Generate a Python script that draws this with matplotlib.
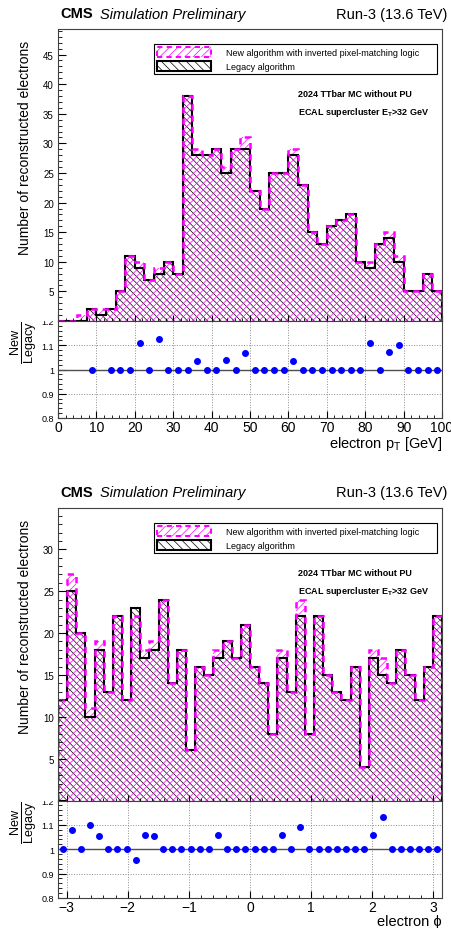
import numpy as np
import matplotlib
matplotlib.use('Agg')
import matplotlib.pyplot as plt
from matplotlib.patches import Patch, Rectangle
from matplotlib.ticker import MultipleLocator, FixedLocator

plt.rcParams['font.family'] = ['Liberation Sans', 'DejaVu Sans']
plt.rcParams['mathtext.fontset'] = 'custom'
plt.rcParams['mathtext.rm'] = 'Liberation Sans'
plt.rcParams['mathtext.it'] = 'Liberation Sans:italic'
plt.rcParams['mathtext.bf'] = 'Liberation Sans:bold'
plt.rcParams['hatch.linewidth'] = 0.5

# electron pT, 40 bins of 2.5 GeV
pt_edges = np.linspace(0, 100, 41)
pt_legacy = np.array([0, 0, 0, 2, 1, 2, 5, 11, 9, 7,
                      8, 10, 8, 38, 28, 28, 29, 25, 29, 29,
                      22, 19, 25, 25, 28, 23, 15, 13, 16, 17,
                      18, 10, 9, 13, 14, 10, 5, 5, 8, 5])
pt_new = np.array([0, 0, 1, 2, 2, 2, 5, 11, 10, 7,
                   9, 10, 8, 38, 29, 28, 29, 26, 29, 31,
                   22, 19, 25, 25, 29, 23, 15, 13, 16, 17,
                   18, 10, 10, 13, 15, 11, 5, 5, 8, 5])

# electron phi, 42 bins over [-pi, pi]
phi_edges = np.linspace(-np.pi, np.pi, 43)
phi_legacy = np.array([12, 25, 20, 10, 18, 13, 22, 12, 23, 17,
                       18, 24, 14, 18, 6, 16, 15, 17, 19, 17,
                       21, 16, 14, 8, 17, 13, 22, 8, 22, 15,
                       13, 12, 16, 4, 17, 15, 14, 18, 15, 12,
                       16, 22])
phi_new = np.array([12, 27, 20, 11, 19, 13, 22, 12, 22, 18,
                    19, 24, 14, 18, 6, 16, 15, 18, 19, 17,
                    21, 16, 14, 8, 18, 13, 24, 8, 22, 15,
                    13, 12, 16, 4, 18, 17, 14, 18, 15, 12,
                    16, 22])

label_new = 'New algorithm with inverted pixel-matching logic'
label_legacy = 'Legacy algorithm'
magenta = '#ff00ff'

W, H = 452, 929
fig = plt.figure(figsize=(W / 100, H / 100), dpi=100)


def fx(px):
    return px / W


def fy(py):
    return 1 - py / H


def panel(top, mid, bottom, edges, legacy, new, ymax, xmaj, xmin, xlabel):
    left, right = 58, 442
    ax = fig.add_axes([fx(left), fy(mid), fx(right) - fx(left), fy(top) - fy(mid)])
    axr = fig.add_axes([fx(left), fy(bottom), fx(right) - fx(left), fy(mid) - fy(bottom)], sharex=ax)

    # hatched fills
    ax.stairs(legacy, edges, baseline=0, fill=True, facecolor='none', edgecolor='black',
              hatch='\\\\\\\\\\', linewidth=0)
    ax.stairs(new, edges, baseline=0, fill=True, facecolor='none', edgecolor=magenta,
              hatch='/////', linewidth=0)
    # outlines
    ax.stairs(legacy, edges, baseline=0, color='black', linewidth=1.5)
    ax.stairs(new, edges, baseline=0, color=magenta, linewidth=1.8, linestyle=(0, (2.5, 2)))

    ax.set_xlim(edges[0], edges[-1])
    ax.set_ylim(0, ymax)
    ax.yaxis.set_major_locator(FixedLocator(np.arange(5, ymax, 5)))
    ax.yaxis.set_minor_locator(MultipleLocator(1))
    ax.xaxis.set_major_locator(MultipleLocator(xmaj))
    ax.xaxis.set_minor_locator(MultipleLocator(xmin))
    ax.tick_params(axis='both', which='both', direction='in', top=False, right=False,
                   labelbottom=False)
    ax.tick_params(axis='y', which='major', length=6, labelsize=7, pad=3)
    ax.tick_params(axis='y', which='minor', length=3)
    ax.tick_params(axis='x', which='major', length=4.5)
    ax.tick_params(axis='x', which='minor', length=2.5)

    leg_handles = [Patch(facecolor='none', edgecolor=magenta, hatch='////', linestyle=(0, (2.5, 2)), linewidth=1.5),
                   Patch(facecolor='none', edgecolor='black', hatch='\\\\\\\\', linewidth=1.5)]
    leg = ax.legend(leg_handles, [label_new, label_legacy], loc='upper left',
                    bbox_to_anchor=(0.25, 0.946, 0.737, 0.0), mode='expand', fontsize=6.5,
                    fancybox=False, edgecolor='black', framealpha=1, handlelength=6.0,
                    handleheight=1.25, handletextpad=1.6, borderpad=0.35, labelspacing=0.45,
                    borderaxespad=0)
    leg.get_frame().set_linewidth(0.8)

    ax.text(0.625, 0.777, '2024 TTbar MC without PU', transform=ax.transAxes,
            fontsize=6.5, fontweight='bold', va='center')
    ax.text(0.625, 0.716, r'ECAL supercluster E$_{\mathbf{T}}$>32 GeV', transform=ax.transAxes,
            fontsize=6.5, fontweight='bold', va='center')

    # ratio
    centers = 0.5 * (edges[:-1] + edges[1:])
    ok = legacy > 0
    ratio = new[ok] / legacy[ok]
    axr.grid(True, which='major', linestyle=':', color='0.55', linewidth=0.7)
    axr.axhline(1, color='0.3', linewidth=1.0)
    axr.plot(centers[ok], ratio, 'o', color='blue', markersize=4, zorder=5)
    axr.set_ylim(0.8, 1.2)
    axr.yaxis.set_major_locator(FixedLocator([0.8, 0.9, 1.0, 1.1, 1.2]))
    axr.yaxis.set_minor_locator(MultipleLocator(0.02))
    axr.set_yticklabels(['0.8', '0.9', '1', '1.1', '1.2'])
    axr.tick_params(axis='both', which='both', direction='in', top=False, right=False)
    axr.tick_params(axis='y', which='major', length=6, labelsize=6.5, pad=3)
    axr.tick_params(axis='y', which='minor', length=3)
    axr.tick_params(axis='x', which='major', length=5, labelsize=10, pad=1.5)
    axr.tick_params(axis='x', which='minor', length=2.5)
    axr.set_xlabel(xlabel, fontsize=10.5, loc='right', labelpad=0)

    for a in (ax, axr):
        for s in a.spines.values():
            s.set_linewidth(0.8)
            s.set_color('0.25')

    # upper pad hides the top half of the "1.2" label
    fig.add_artist(Rectangle((fx(38), fy(mid)), fx(57) - fx(38), 7 / H, transform=fig.transFigure,
                             facecolor='white', edgecolor='none', zorder=10))

    fig.text(fx(25), fy(top + 11), 'Number of reconstructed electrons', rotation=90,
             ha='center', va='top', fontsize=10)
    fig.text(fx(24), fy(mid + 21), r'$\frac{\mathrm{New}}{\mathrm{Legacy}}$', rotation=90,
             ha='center', va='center', fontsize=13)

    fig.text(fx(60), fy(top - 15), 'CMS', fontsize=10.5, fontweight='bold', va='center')
    fig.text(fx(100), fy(top - 15), 'Simulation Preliminary', fontsize=10.5, style='italic', va='center')
    fig.text(fx(447), fy(top - 15), 'Run-3 (13.6 TeV)', fontsize=10.5, ha='right', va='center')
    return ax, axr


panel(29.5, 322, 419, pt_edges, pt_legacy, pt_new, 49.4, 10, 2,
      r'electron p$_{\mathrm{T}}$ [GeV]')
panel(508.5, 801.5, 899, phi_edges, phi_legacy, phi_new, 35, 1, 0.2,
      'electron ϕ')

fig.savefig('out.png', dpi=100)
